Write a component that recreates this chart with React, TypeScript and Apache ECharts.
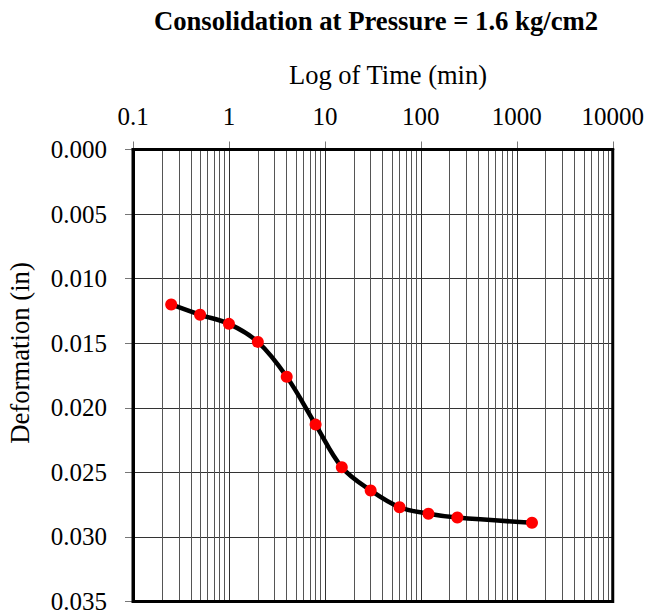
import React, { useEffect, useRef } from "react";
import * as echarts from "echarts";

const timeMin = [0.25, 0.5, 1, 2, 4, 8, 15, 30, 60, 120, 240, 1440];
const deformationIn = [0.012, 0.0128, 0.0135, 0.0149, 0.0176, 0.0213, 0.0246, 0.0264, 0.0277, 0.0282, 0.0285, 0.0289];
const decades = [0.1, 1, 10, 100, 1000];
const minorMultipliers = [2, 3, 4, 5, 6, 7, 8, 9];
const minorGridValues: number[] = [];
decades.forEach((d) => minorMultipliers.forEach((m) => minorGridValues.push(+(d * m).toPrecision(6))));

const FONT = "'Liberation Serif', 'Times New Roman', serif";

export default function App() {
  const ref = useRef<HTMLDivElement>(null);
  useEffect(() => {
    document.body.style.margin = "0";
    const chart = echarts.init(ref.current!, undefined, { renderer: "svg" });
    chart.setOption({
      animation: false,
      backgroundColor: "#ffffff",
      grid: {
        left: 133,
        top: 149.5,
        right: 34,
        bottom: 12,
        show: true,
        borderColor: "#000",
        borderWidth: 3,
        backgroundColor: "transparent",
        z: 10,
      },
      graphic: [
        {
          type: "text",
          x: 376,
          y: 21,
          style: {
            text: "Consolidation at Pressure = 1.6 kg/cm2",
            font: `bold 26.7px ${FONT}`,
            fill: "#000",
            align: "center",
            verticalAlign: "middle",
          },
        },
        {
          type: "text",
          x: 388,
          y: 75,
          style: {
            text: "Log of Time (min)",
            font: `26.5px ${FONT}`,
            fill: "#000",
            align: "center",
            verticalAlign: "middle",
          },
        },
        {
          type: "text",
          x: 20,
          y: 353,
          rotation: Math.PI / 2,
          style: {
            text: "Deformation (in)",
            font: `26.7px ${FONT}`,
            fill: "#000",
            align: "center",
            verticalAlign: "middle",
          },
        },
      ],
      xAxis: {
        type: "log",
        logBase: 10,
        position: "top",
        min: 0.1,
        max: 10000,
        axisLine: { show: true, lineStyle: { color: "#000", width: 3 } },
        axisTick: { show: true, inside: false, length: 8, lineStyle: { color: "#777", width: 1 } },
        axisLabel: {
          margin: 21,
          fontFamily: FONT,
          fontSize: 25,
          color: "#000",
          showMinLabel: true,
          showMaxLabel: true,
          formatter: (v: number) => String(+(+v).toPrecision(6)),
        },
        splitLine: { show: true, lineStyle: { color: "#333", width: 1 } },
        minorTick: { show: false },
        minorSplitLine: { show: false },
      },
      yAxis: {
        type: "value",
        inverse: true,
        min: 0,
        max: 0.035,
        interval: 0.005,
        axisLine: { show: true, lineStyle: { color: "#000", width: 3 } },
        axisTick: { show: true, inside: false, length: 8, lineStyle: { color: "#777", width: 1 } },
        axisLabel: {
          margin: 26,
          fontFamily: FONT,
          fontSize: 25,
          color: "#000",
          formatter: (v: number) => (+v).toFixed(3),
        },
        splitLine: { show: true, lineStyle: { color: "#333", width: 1 } },
      },
      series: [
        {
          name: "minorGrid",
          type: "line",
          data: [],
          silent: true,
          z: 1,
          markLine: {
            silent: true,
            symbol: ["none", "none"],
            label: { show: false },
            lineStyle: { color: "#555", width: 1, type: "solid" },
            emphasis: { disabled: true },
            data: minorGridValues.map((v) => ({ xAxis: v })),
          },
        },
        {
          name: "Deformation",
          type: "line",
          z: 5,
          smooth: 0.35,
          data: timeMin.map((t, i) => [t, deformationIn[i]]),
          lineStyle: { color: "#000", width: 4.5 },
          symbol: "circle",
          symbolSize: 12,
          itemStyle: { color: "#ff0000", borderWidth: 0 },
        },
      ],
    });
    return () => chart.dispose();
  }, []);
  return <div ref={ref} style={{ position: "fixed", left: 0, top: 0, width: 647, height: 614 }} />;
}
